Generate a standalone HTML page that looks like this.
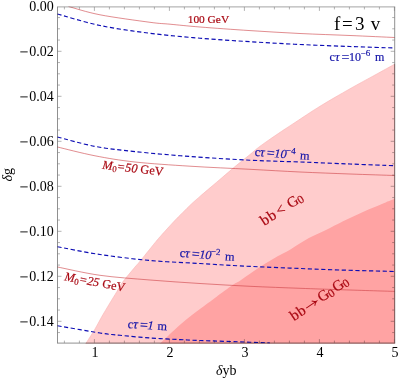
<!DOCTYPE html>
<html><head><meta charset="utf-8"><style>
html,body{margin:0;padding:0;background:#fff;}
body{width:399px;height:380px;overflow:hidden;}
svg{display:block;font-family:"Liberation Serif",serif;}
.tl text{font-size:14px;fill:#000;}
.bl{fill:none;stroke:#0c0cb4;stroke-width:1.15;stroke-dasharray:4.2 2.6;}
.rl{fill:none;stroke:#cc4044;stroke-width:0.6;}
.bt{fill:#1414a8;stroke:#1414a8;stroke-width:0.2;}
.rt{fill:#aa0a14;stroke:#aa0a14;stroke-width:0.2;}
</style></head><body>
<svg width="399" height="380" viewBox="0 0 399 380">
<defs><clipPath id="cp"><rect x="57.0" y="6.5" width="338.2" height="337.1"/></clipPath></defs>
<rect width="399" height="380" fill="#fff"/>
<g clip-path="url(#cp)">
<path d="M85.50,344.00 C87.00,341.65 91.80,334.43 94.50,329.90 C97.20,325.37 99.28,321.03 101.70,316.80 C104.12,312.57 106.45,308.73 109.00,304.50 C111.55,300.27 114.75,295.10 117.00,291.40 C119.25,287.70 119.50,286.37 122.50,282.30 C125.50,278.23 132.25,270.30 135.00,267.00 C137.75,263.70 135.67,266.55 139.00,262.50 C142.33,258.45 151.23,247.28 155.00,242.70 C158.77,238.12 158.45,238.53 161.60,235.00 C164.75,231.47 170.40,225.22 173.90,221.50 C177.40,217.78 179.68,215.62 182.60,212.70 C185.52,209.78 188.50,206.72 191.40,204.00 C194.30,201.28 197.73,198.38 200.00,196.40 C202.27,194.42 201.65,194.95 205.00,192.10 C208.35,189.25 215.08,183.57 220.10,179.30 C225.12,175.03 230.12,170.63 235.10,166.50 C240.08,162.37 245.83,157.88 250.00,154.50 C254.17,151.12 255.50,149.62 260.10,146.20 C264.70,142.78 271.78,137.95 277.60,134.00 C283.42,130.05 287.93,127.12 295.00,122.50 C302.07,117.88 310.83,111.88 320.00,106.25 C329.17,100.62 340.83,93.96 350.00,88.75 C359.17,83.54 367.58,79.08 375.00,75.00 C382.42,70.92 391.25,66.04 394.50,64.25 L394.70,345.10 Z" fill="#ffcccc" stroke="#f8b4b4" stroke-width="0.6"/>
<path d="M159.50,344.00 C161.98,341.65 169.20,334.57 174.40,329.90 C179.60,325.23 185.27,320.35 190.70,316.00 C196.13,311.65 202.73,306.98 207.00,303.80 C211.27,300.62 212.03,300.03 216.30,296.90 C220.57,293.77 228.65,287.70 232.60,285.00 C236.55,282.30 236.68,282.87 240.00,280.70 C243.32,278.53 248.33,274.82 252.50,272.00 C256.67,269.18 260.82,266.42 265.00,263.80 C269.18,261.18 273.43,258.63 277.60,256.30 C281.77,253.97 284.78,252.83 290.00,249.80 C295.22,246.77 302.23,241.75 308.90,238.10 C315.57,234.45 323.60,231.03 330.00,227.90 C336.40,224.77 341.53,222.07 347.30,219.30 C353.07,216.53 358.83,213.85 364.60,211.30 C370.37,208.75 376.92,206.08 381.90,204.00 C386.88,201.92 392.40,199.67 394.50,198.80 L394.70,345.10 Z" fill="#ffa3a3"/>
<path class="rl" d="M68.50,6.50 C73.75,7.88 86.42,12.17 100.00,14.80 C113.58,17.43 138.33,20.73 150.00,22.30 C161.67,23.87 161.67,23.42 170.00,24.20 C178.33,24.98 186.67,25.93 200.00,27.00 C213.33,28.07 233.33,29.52 250.00,30.60 C266.67,31.68 283.33,32.68 300.00,33.50 C316.67,34.32 334.25,34.83 350.00,35.50 C365.75,36.17 387.08,37.17 394.50,37.50"/>
<path class="rl" d="M57.50,147.00 C63.75,148.47 82.08,153.30 95.00,155.80 C107.92,158.30 119.17,160.27 135.00,162.00 C150.83,163.73 170.83,164.98 190.00,166.20 C209.17,167.42 231.67,168.33 250.00,169.30 C268.33,170.27 283.33,171.22 300.00,172.00 C316.67,172.78 334.25,173.42 350.00,174.00 C365.75,174.58 387.08,175.25 394.50,175.50"/>
<path class="rl" d="M57.50,267.00 C64.58,268.38 84.58,273.13 100.00,275.30 C115.42,277.47 133.33,278.63 150.00,280.00 C166.67,281.37 183.33,282.45 200.00,283.50 C216.67,284.55 233.33,285.50 250.00,286.30 C266.67,287.10 285.00,287.73 300.00,288.30 C315.00,288.87 324.25,289.18 340.00,289.70 C355.75,290.22 385.42,291.12 394.50,291.40"/>
<path class="bl" d="M57.50,14.00 C64.58,15.92 84.58,22.28 100.00,25.50 C115.42,28.72 133.33,31.18 150.00,33.30 C166.67,35.42 183.33,36.80 200.00,38.20 C216.67,39.60 233.33,40.65 250.00,41.70 C266.67,42.75 283.33,43.70 300.00,44.50 C316.67,45.30 334.25,45.92 350.00,46.50 C365.75,47.08 387.08,47.75 394.50,48.00"/>
<path class="bl" d="M57.50,137.00 C63.75,138.57 82.08,143.97 95.00,146.40 C107.92,148.83 119.17,149.92 135.00,151.60 C150.83,153.28 170.83,155.07 190.00,156.50 C209.17,157.93 231.67,159.28 250.00,160.20 C268.33,161.12 283.33,161.37 300.00,162.00 C316.67,162.63 334.25,163.38 350.00,164.00 C365.75,164.62 387.08,165.46 394.50,165.75"/>
<path class="bl" d="M57.50,246.75 C64.58,248.04 84.58,252.21 100.00,254.50 C115.42,256.79 133.33,259.00 150.00,260.50 C166.67,262.00 185.00,262.60 200.00,263.50 C215.00,264.40 225.00,265.13 240.00,265.90 C255.00,266.67 273.33,267.42 290.00,268.10 C306.67,268.78 322.58,269.43 340.00,270.00 C357.42,270.57 385.42,271.25 394.50,271.50"/>
<path class="bl" d="M57.50,325.75 C64.58,326.96 89.58,331.41 100.00,333.00 C110.42,334.59 111.67,334.47 120.00,335.30 C128.33,336.13 140.00,337.28 150.00,338.00 C160.00,338.72 171.67,339.18 180.00,339.60 C188.33,340.02 188.33,340.07 200.00,340.50 C211.67,340.93 238.33,341.78 250.00,342.20 C261.67,342.62 266.67,342.87 270.00,343.00"/>
</g>
<g style="mix-blend-mode:multiply"><path d="M57.0,6.9H395.2" stroke="#9a9a9a" stroke-width="0.9" fill="none"/><path d="M57.5,6.9V343.1M57.0,343.1H86M394.7,6.9V64" stroke="#8a8a8a" stroke-width="0.95" fill="none"/><path d="M86,343.1H395.2M394.7,64V343.1" stroke="#747474" stroke-width="1" fill="none"/>
<path d="M64.40,343.10v-2.50 M64.40,6.90v2.50 M79.40,343.10v-2.50 M79.40,6.90v2.50 M94.40,343.10v-4.00 M94.40,6.90v4.00 M109.40,343.10v-2.50 M109.40,6.90v2.50 M124.40,343.10v-2.50 M124.40,6.90v2.50 M139.40,343.10v-2.50 M139.40,6.90v2.50 M154.40,343.10v-2.50 M154.40,6.90v2.50 M169.40,343.10v-4.00 M169.40,6.90v4.00 M184.40,343.10v-2.50 M184.40,6.90v2.50 M199.40,343.10v-2.50 M199.40,6.90v2.50 M214.40,343.10v-2.50 M214.40,6.90v2.50 M229.40,343.10v-2.50 M229.40,6.90v2.50 M244.40,343.10v-4.00 M244.40,6.90v4.00 M259.40,343.10v-2.50 M259.40,6.90v2.50 M274.40,343.10v-2.50 M274.40,6.90v2.50 M289.40,343.10v-2.50 M289.40,6.90v2.50 M304.40,343.10v-2.50 M304.40,6.90v2.50 M319.40,343.10v-4.00 M319.40,6.90v4.00 M334.40,343.10v-2.50 M334.40,6.90v2.50 M349.40,343.10v-2.50 M349.40,6.90v2.50 M364.40,343.10v-2.50 M364.40,6.90v2.50 M379.40,343.10v-2.50 M379.40,6.90v2.50 M394.40,343.10v-4.00 M394.40,6.90v4.00 M57.50,17.55h2.50 M394.70,17.55h-2.50 M57.50,28.80h2.50 M394.70,28.80h-2.50 M57.50,40.05h2.50 M394.70,40.05h-2.50 M57.50,51.30h4.00 M394.70,51.30h-4.00 M57.50,62.55h2.50 M394.70,62.55h-2.50 M57.50,73.80h2.50 M394.70,73.80h-2.50 M57.50,85.05h2.50 M394.70,85.05h-2.50 M57.50,96.30h4.00 M394.70,96.30h-4.00 M57.50,107.55h2.50 M394.70,107.55h-2.50 M57.50,118.80h2.50 M394.70,118.80h-2.50 M57.50,130.05h2.50 M394.70,130.05h-2.50 M57.50,141.30h4.00 M394.70,141.30h-4.00 M57.50,152.55h2.50 M394.70,152.55h-2.50 M57.50,163.80h2.50 M394.70,163.80h-2.50 M57.50,175.05h2.50 M394.70,175.05h-2.50 M57.50,186.30h4.00 M394.70,186.30h-4.00 M57.50,197.55h2.50 M394.70,197.55h-2.50 M57.50,208.80h2.50 M394.70,208.80h-2.50 M57.50,220.05h2.50 M394.70,220.05h-2.50 M57.50,231.30h4.00 M394.70,231.30h-4.00 M57.50,242.55h2.50 M394.70,242.55h-2.50 M57.50,253.80h2.50 M394.70,253.80h-2.50 M57.50,265.05h2.50 M394.70,265.05h-2.50 M57.50,276.30h4.00 M394.70,276.30h-4.00 M57.50,287.55h2.50 M394.70,287.55h-2.50 M57.50,298.80h2.50 M394.70,298.80h-2.50 M57.50,310.05h2.50 M394.70,310.05h-2.50 M57.50,321.30h4.00 M394.70,321.30h-4.00 M57.50,332.55h2.50 M394.70,332.55h-2.50" stroke="#808080" stroke-width="0.6" fill="none"/></g>
<path d="M20.3,51.90h7.4 M20.3,96.90h7.4 M20.3,141.90h7.4 M20.3,186.90h7.4 M20.3,231.90h7.4 M20.3,276.90h7.4 M20.3,321.90h7.4" stroke="#000" stroke-width="0.9" fill="none"/>
<g class="tl">
<text x="53.7" y="11.00" text-anchor="end">0.00</text>
<text x="53.7" y="56.00" text-anchor="end">0.02</text>
<text x="53.7" y="101.00" text-anchor="end">0.04</text>
<text x="53.7" y="146.00" text-anchor="end">0.06</text>
<text x="53.7" y="191.00" text-anchor="end">0.08</text>
<text x="53.7" y="236.00" text-anchor="end">0.10</text>
<text x="53.7" y="281.00" text-anchor="end">0.12</text>
<text x="53.7" y="326.00" text-anchor="end">0.14</text>
<text x="94.90" y="356.6" text-anchor="middle">1</text>
<text x="169.90" y="356.6" text-anchor="middle">2</text>
<text x="244.90" y="356.6" text-anchor="middle">3</text>
<text x="319.90" y="356.6" text-anchor="middle">4</text>
<text x="394.90" y="356.6" text-anchor="middle">5</text>

<text x="216" y="374.5" font-size="14.5"><tspan font-style="italic">δ</tspan>yb</text>
<text transform="translate(11.5,181.5) rotate(-90)" font-size="14.5"><tspan font-style="italic">δ</tspan>g</text>
<text x="334 342.1 355 365 370.7" y="29.5" style="font-size:19px">f=3 v</text>
</g>
<text class="rt" x="187.7" y="23" font-size="11.4">100 GeV</text>
<text class="rt" font-size="12.3" transform="translate(102,168.7) rotate(6.5)"><tspan font-style="italic">M</tspan><tspan font-size="8.8" dy="2">0</tspan><tspan dy="-2" font-style="italic">=50</tspan> GeV</text>
<text class="rt" font-size="12.3" transform="translate(64,280.3) rotate(10.5)"><tspan font-style="italic">M</tspan><tspan font-size="8.8" dy="2">0</tspan><tspan dy="-2" font-style="italic">=25</tspan> GeV</text>
<text class="bt" font-size="12" transform="translate(329.5,61) rotate(0)"><tspan x="0">c</tspan><tspan x="5.4" font-style="italic" font-size="13">τ</tspan><tspan x="12.1" font-size="14" dy="0.5">=</tspan><tspan x="19.6" dy="-0.5">10</tspan><tspan x="31" dy="-5" font-size="9">−</tspan><tspan x="36.2" font-size="9">6</tspan><tspan x="45.4" dy="5">m</tspan></text>
<text class="bt" font-size="12.3" transform="translate(254.5,155.8) rotate(4.5)"><tspan x="0">c</tspan><tspan x="5.4" font-style="italic" font-size="13">τ</tspan><tspan x="12.1" font-size="14" dy="0.5">=</tspan><tspan x="19.6" dy="-0.5" font-style="italic">10</tspan><tspan x="31" dy="-5" font-size="9">−</tspan><tspan x="36.2" font-size="9">4</tspan><tspan x="45.4" dy="5">m</tspan></text>
<text class="bt" font-size="12.3" transform="translate(179.4,256.8) rotate(4.5)"><tspan x="0">c</tspan><tspan x="5.4" font-style="italic" font-size="13">τ</tspan><tspan x="12.1" font-size="14" dy="0.5">=</tspan><tspan x="19.6" dy="-0.5" font-style="italic">10</tspan><tspan x="31" dy="-5" font-size="9">−</tspan><tspan x="36.2" font-size="9">2</tspan><tspan x="45.4" dy="5">m</tspan></text>
<text class="bt" font-size="12.3" transform="translate(127.6,328.0) rotate(3.5)"><tspan x="0">c</tspan><tspan x="5.3" font-style="italic" font-size="13">τ</tspan><tspan x="12.1" font-size="14" dy="0.5">=</tspan><tspan x="19.8" dy="-0.5" font-style="italic">1</tspan><tspan x="29.6">m</tspan></text>
<text class="rt" font-size="15" transform="translate(264.3,226) rotate(-33.2)"><tspan x="0">b</tspan><tspan x="8.3">b</tspan><tspan x="18.2">&lt;</tspan><tspan x="31.5">G</tspan><tspan x="42" font-size="11.5" dy="1.5">0</tspan></text>
<g transform="translate(294,321.3) rotate(-34.2)">
<text class="rt" font-size="15"><tspan x="0">b</tspan><tspan x="8.2">b</tspan><tspan x="33.3">G</tspan><tspan x="43.8" font-size="11.5" dy="1.5">0</tspan><tspan x="51.2" dy="-1.5">G</tspan><tspan x="61.6" font-size="11.5" dy="1.5">0</tspan></text>
<path d="M17.5,-4H29.5M26,-6.8Q27.7,-4.6 30,-4Q27.7,-3.4 26,-1.2" fill="none" stroke="#aa0a14" stroke-width="1"/>
</g>
</svg>
</body></html>
